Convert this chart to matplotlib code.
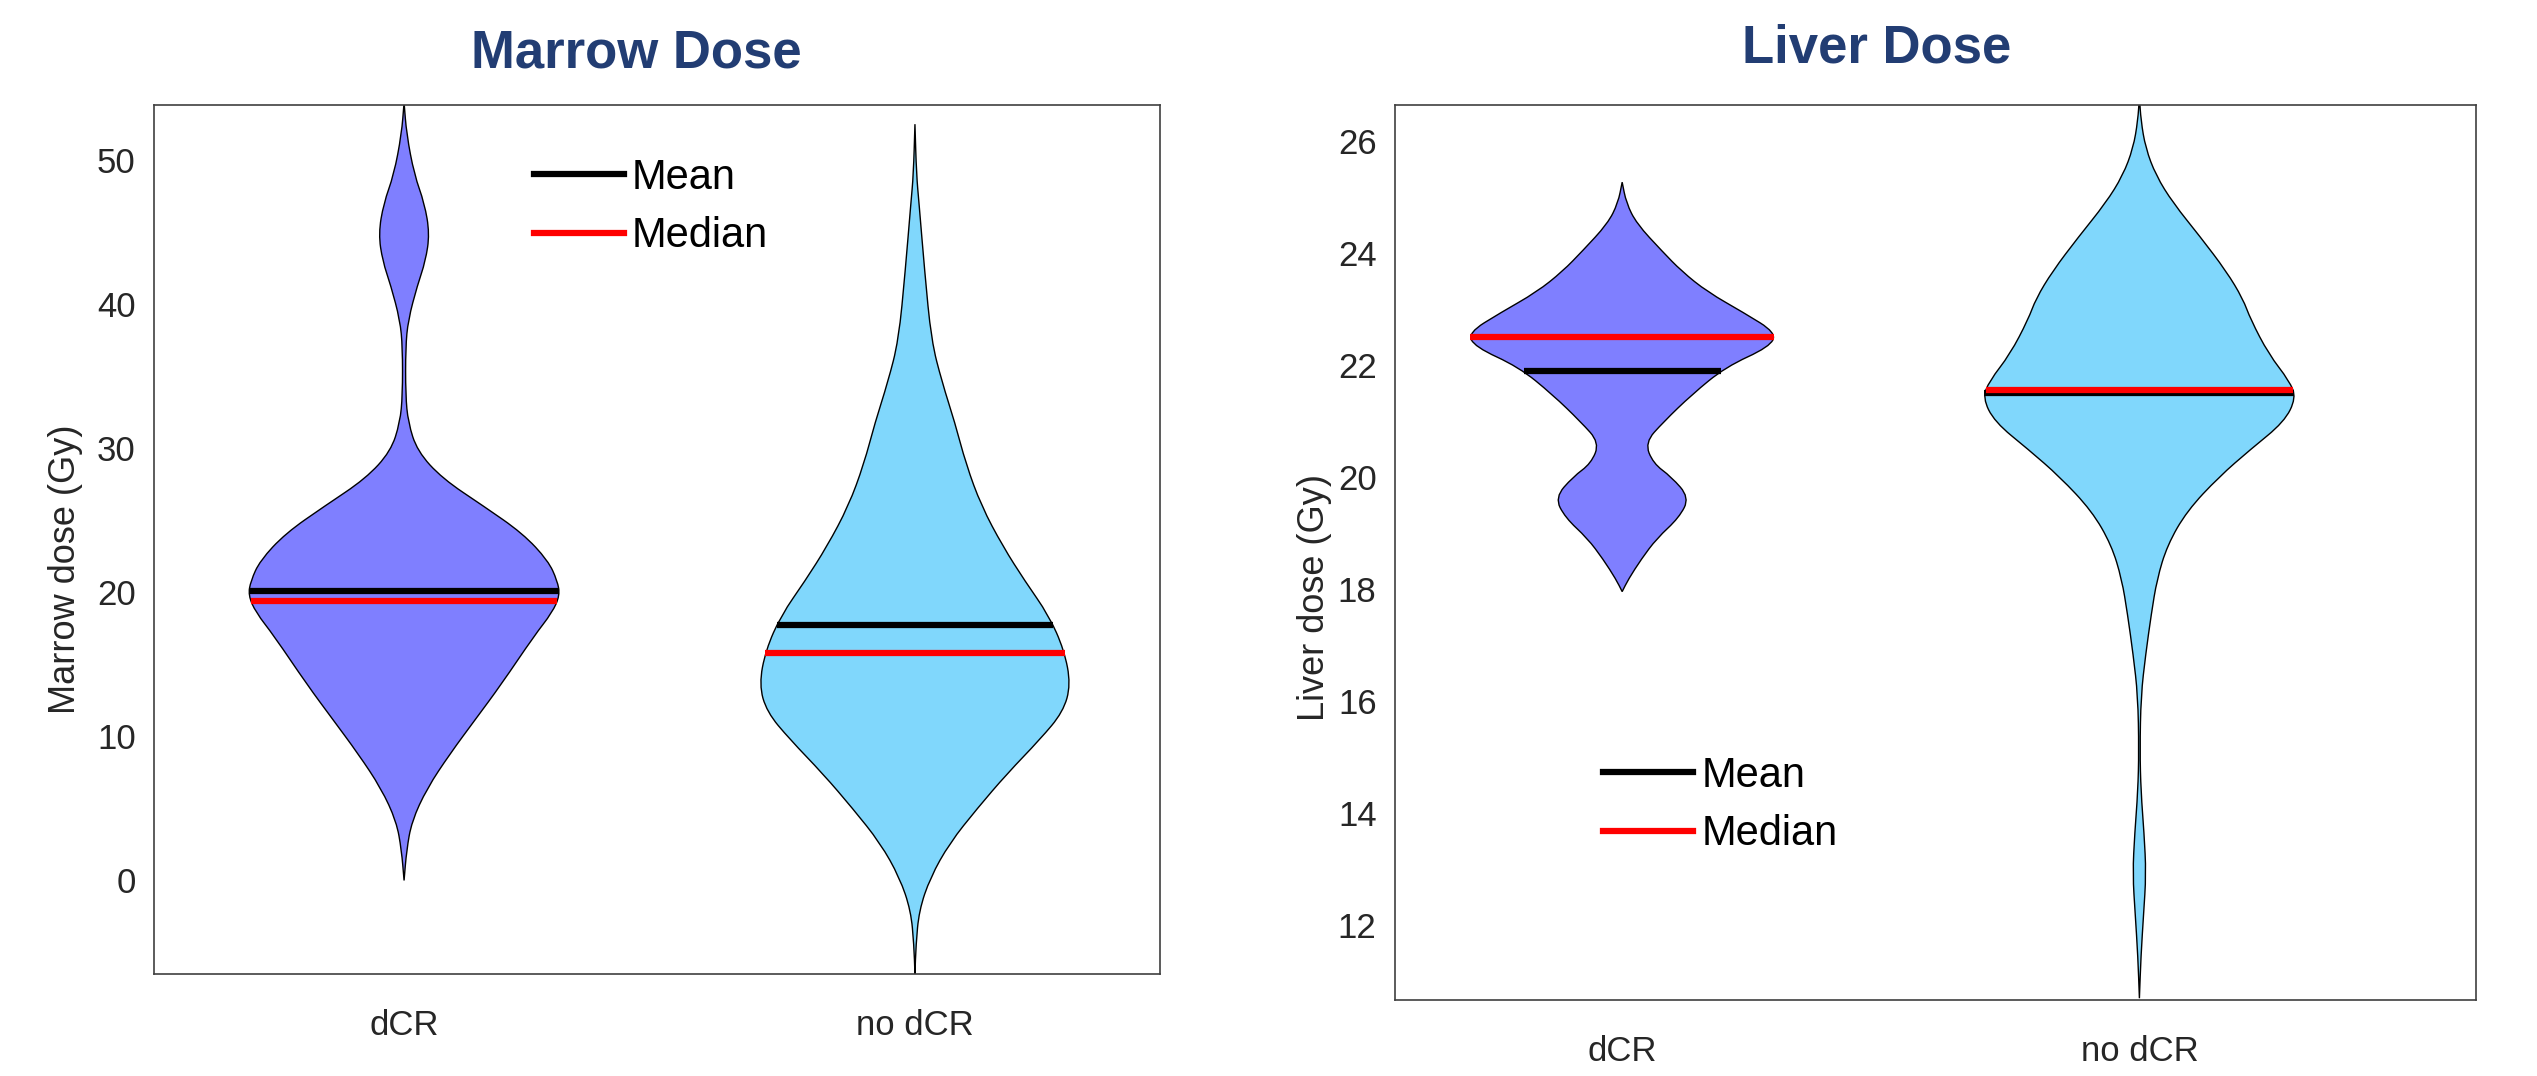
import numpy as np
import matplotlib
matplotlib.use("Agg")
import matplotlib.pyplot as plt
from matplotlib.lines import Line2D
from matplotlib.path import Path
from matplotlib.patches import PathPatch

# ============================================================
# Violin profiles (dose, half width)
# ============================================================

groups = ["dCR", "no dCR"]

marrow_dcr_y = [54.0, 51.8, 49.0, 47.0, 44.9, 43.0, 41.3, 38.9, 37.0, 33.7, 31.8,
                29.8, 27.9, 26.0, 24.1, 22.2, 20.8, 19.8, 18.6, 17.0, 13.6, 11.2,
                8.8, 6.4, 4.1, 2.1, 0.0]
marrow_dcr_w = [0, .005, .02, .04, .05, .042, .026, .008, .003, .003, .008,
                .026, .075, .155, .232, .282, .3, .305, .29, .255, .19, .14,
                .09, .045, .015, .005, 0]

marrow_nodcr_y = [52.5, 49, 47, 42.3, 37.5, 34.6, 31.8, 28.9, 26, 23.2, 20.8,
                  18.4, 16, 13.6, 11.7, 9.8, 7.4, 5, 2.6, 0.2, -2.1, -4.5, -6.5]
marrow_nodcr_w = [0, .003, .008, .019, .032, .053, .078, .1, .13, .172, .215,
                  .262, .292, .305, .29, .245, .18, .122, .068, .03, .008, .002, 0]

marrow_mean = [20.1, 17.7]
marrow_median = [19.4, 15.8]

liver_dcr_y = [25.27, 24.9, 24.53, 24.04, 23.68, 23.31, 22.94, 22.58, 22.33, 21.97,
               21.48, 20.99, 20.62, 20.25, 20.01, 19.64, 19.28, 18.91, 18.54, 18.18,
               17.96]
liver_dcr_w = [0, .008, .028, .077, .115, .165, .235, .298, .285, .2,
               .135, .08, .044, .06, .095, .13, .11, .067, .037, .012, 0]

liver_nodcr_y = [26.8, 26.37, 25.88, 25.39, 24.9, 24.29, 23.68, 23.19, 22.82, 22.2,
                 21.72, 21.42, 20.99, 20.5, 20.01, 19.4, 18.79, 18.18, 17.56, 16.83,
                 16.1, 15.12, 14.39, 13.65, 12.92, 12.19, 11.45, 10.7]
liver_nodcr_w = [0, .003, .012, .032, .065, .118, .168, .2, .215, .25,
                 .29, .303, .28, .215, .154, .092, .054, .034, .023, .012,
                 .003, .001, .003, .009, .013, .008, .003, 0]

liver_mean = [21.9, 21.5]
liver_median = [22.5, 21.56]

# ============================================================
# Style
# ============================================================

fill_colors = ["#7F7FFF", "#80D7FC"]
title_color = "#223D73"
text_color = "#262626"

plt.rcParams["font.family"] = ["Liberation Sans", "DejaVu Sans"]

fig = plt.figure(figsize=(25.37, 10.76), dpi=100)
ax1 = fig.add_axes([0.0606, 0.0947, 0.3967, 0.8073])
ax2 = fig.add_axes([0.5497, 0.0707, 0.4261, 0.8313])


def smooth_chain(pts, first):
    # quadratic bezier through the midpoints, ends kept as corners
    verts = [pts[0]]
    codes = [Path.MOVETO if first else Path.LINETO]
    verts.append(((pts[0][0] + pts[1][0]) / 2, (pts[0][1] + pts[1][1]) / 2))
    codes.append(Path.LINETO)
    for i in range(1, len(pts) - 1):
        mid = ((pts[i][0] + pts[i + 1][0]) / 2, (pts[i][1] + pts[i + 1][1]) / 2)
        verts += [pts[i], mid]
        codes += [Path.CURVE3, Path.CURVE3]
    verts.append(pts[-1])
    codes.append(Path.LINETO)
    return verts, codes


def draw_violins(ax, profiles, means, medians):
    for i, (ys, ws) in enumerate(profiles):
        pos = i + 1
        left = [(pos - w, y) for y, w in zip(ys, ws)]
        right = [(pos + w, y) for y, w in zip(ys, ws)][::-1]
        v1, c1 = smooth_chain(left, True)
        v2, c2 = smooth_chain(right, False)
        path = Path(v1 + v2 + [v1[0]], c1 + c2 + [Path.CLOSEPOLY])
        ax.add_patch(PathPatch(path, facecolor=fill_colors[i], edgecolor="black",
                               linewidth=1.0, zorder=2))
        ys_a = np.array(ys)[::-1]
        ws_a = np.array(ws)[::-1]
        w_mean = np.interp(means[i], ys_a, ws_a)
        w_med = np.interp(medians[i], ys_a, ws_a)
        ax.plot([pos - w_mean, pos + w_mean], [means[i], means[i]],
                color="black", linewidth=4.5, zorder=3, solid_capstyle="butt")
        ax.plot([pos - w_med, pos + w_med], [medians[i], medians[i]],
                color="red", linewidth=4.5, zorder=3, solid_capstyle="butt")


def style_axes(ax):
    ax.set_xticks([1, 2])
    ax.set_xticklabels(groups)
    ax.tick_params(length=0, labelsize=25, labelcolor=text_color)
    ax.tick_params(axis="x", pad=25)
    ax.tick_params(axis="y", pad=13)
    for s in ax.spines.values():
        s.set_color("#404040")
        s.set_linewidth(1.2)


legend_handles = [Line2D([0], [0], color="black", linewidth=4.5),
                  Line2D([0], [0], color="red", linewidth=4.5)]

# ============================================================
# Marrow dose
# ============================================================

draw_violins(ax1, [(marrow_dcr_y, marrow_dcr_w), (marrow_nodcr_y, marrow_nodcr_w)],
             marrow_mean, marrow_median)
ax1.set_xlim(0.51, 2.48)
ax1.set_ylim(-6.5, 53.8)
ax1.set_yticks([0, 10, 20, 30, 40, 50])
style_axes(ax1)
ax1.set_ylabel("Marrow dose (Gy)", fontsize=26, color=text_color)
ax1.yaxis.set_label_coords(-0.07, 0.466)
ax1.set_title("Marrow Dose", fontsize=38, fontweight="bold", color=title_color,
              x=0.479, pad=27)
ax1.legend(legend_handles, ["Mean", "Median"], loc="center left",
           bbox_to_anchor=(0.378, 0.883), frameon=False, fontsize=30,
           handlelength=2.15, handletextpad=0.2, labelspacing=0.45,
           borderpad=0, borderaxespad=0)

# ============================================================
# Liver dose
# ============================================================

draw_violins(ax2, [(liver_dcr_y, liver_dcr_w), (liver_nodcr_y, liver_nodcr_w)],
             liver_mean, liver_median)
ax2.set_xlim(0.56, 2.65)
ax2.set_ylim(10.67, 26.64)
ax2.set_yticks([12, 14, 16, 18, 20, 22, 24, 26])
style_axes(ax2)
ax2.set_ylabel("Liver dose (Gy)", fontsize=26, color=text_color)
ax2.yaxis.set_label_coords(-0.058, 0.45)
ax2.set_title("Liver Dose", fontsize=38, fontweight="bold", color=title_color,
              x=0.446, pad=31)
ax2.legend(legend_handles, ["Mean", "Median"], loc="center left",
           bbox_to_anchor=(0.193, 0.218), frameon=False, fontsize=30,
           handlelength=2.15, handletextpad=0.2, labelspacing=0.45,
           borderpad=0, borderaxespad=0)

fig.savefig("out.png", dpi=100)
